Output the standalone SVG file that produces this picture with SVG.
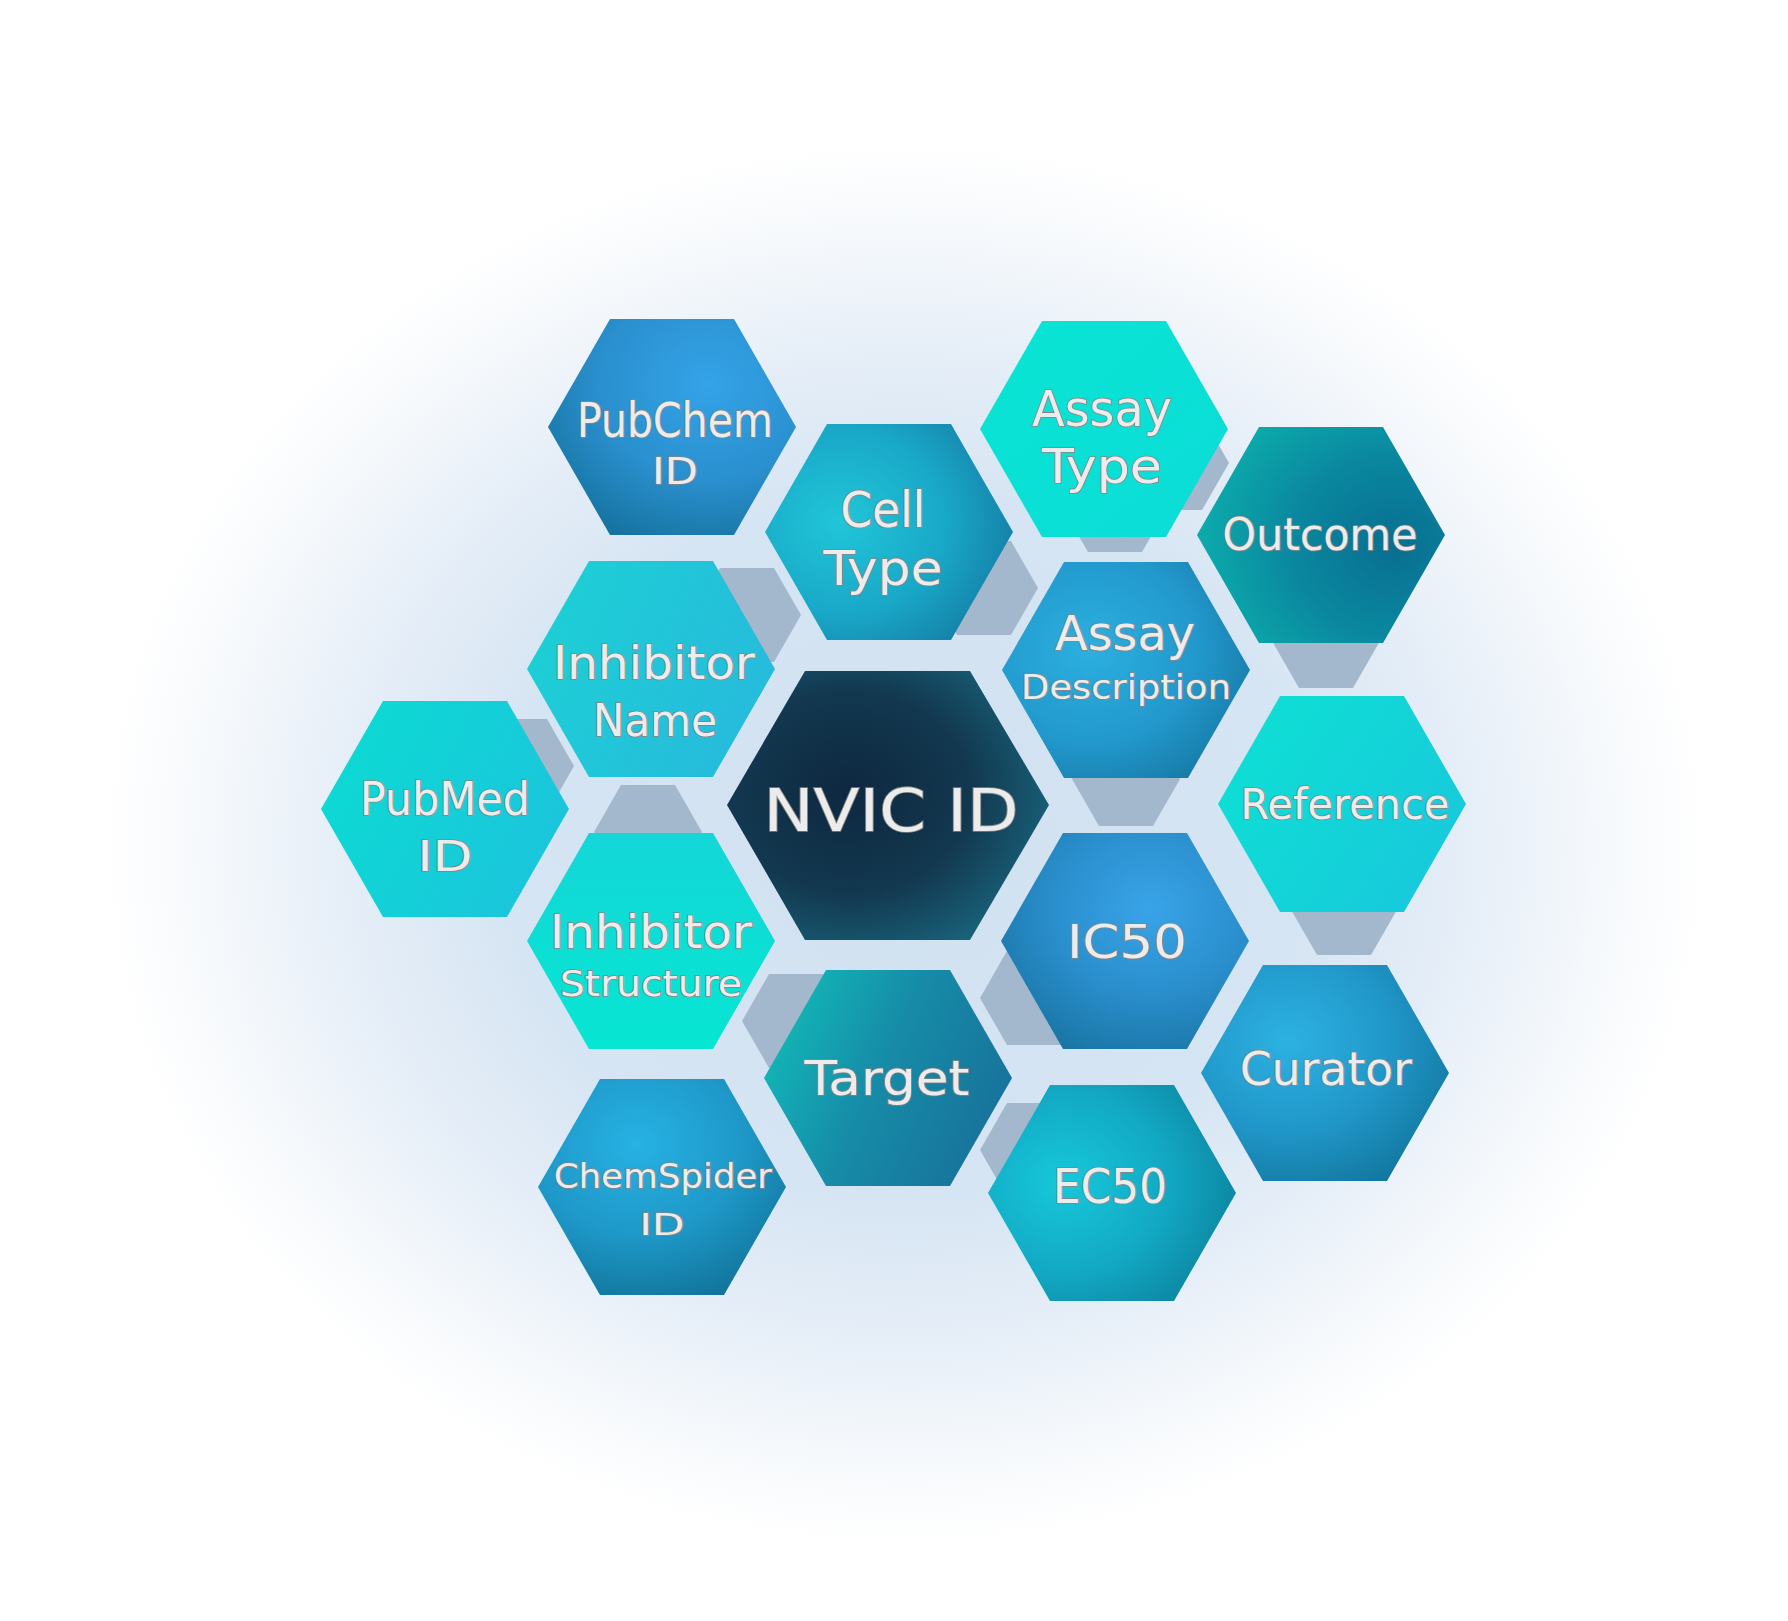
<svg xmlns="http://www.w3.org/2000/svg" width="1788" height="1621" viewBox="0 0 1788 1621">
<defs>
<radialGradient id="bg" cx="0.5" cy="0.5" r="0.5">
<stop offset="0" stop-color="#d0e1f1"/>
<stop offset="0.5" stop-color="#d6e5f3"/>
<stop offset="0.72" stop-color="#e7eff8"/>
<stop offset="0.88" stop-color="#f6f9fc"/>
<stop offset="1" stop-color="#ffffff"/>
</radialGradient>
<radialGradient id="gPubChem" cx="0.65" cy="0.3" r="0.8"><stop offset="0" stop-color="#34a3e8"/><stop offset="0.55" stop-color="#2a90cf"/><stop offset="1" stop-color="#15729e"/></radialGradient>
<radialGradient id="gCell" cx="0.3" cy="0.45" r="0.85"><stop offset="0" stop-color="#20c6d8"/><stop offset="0.5" stop-color="#19a8c8"/><stop offset="1" stop-color="#13709a"/></radialGradient>
<linearGradient id="gAssayType" x1="0" y1="0" x2="1" y2="1"><stop offset="0" stop-color="#08e5d3"/><stop offset="1" stop-color="#0cdcd8"/></linearGradient>
<radialGradient id="gOutcome" cx="0.8" cy="0.55" r="0.85"><stop offset="0" stop-color="#086e90"/><stop offset="0.5" stop-color="#0a88a0"/><stop offset="1" stop-color="#0cb0ac"/></radialGradient>
<linearGradient id="gInhName" x1="0" y1="0" x2="1" y2="0.4"><stop offset="0" stop-color="#1bd2d4"/><stop offset="1" stop-color="#26bcdc"/></linearGradient>
<radialGradient id="gAssayDesc" cx="0.35" cy="0.4" r="0.8"><stop offset="0" stop-color="#2bb0e0"/><stop offset="0.55" stop-color="#2298cc"/><stop offset="1" stop-color="#14739e"/></radialGradient>
<linearGradient id="gPubMed" x1="0" y1="0.3" x2="1" y2="0.7"><stop offset="0" stop-color="#0cdad4"/><stop offset="1" stop-color="#1cc4dc"/></linearGradient>
<radialGradient id="gNvic" cx="0.38" cy="0.45" r="0.75"><stop offset="0" stop-color="#0e2840"/><stop offset="0.5" stop-color="#12384f"/><stop offset="1" stop-color="#1a7088"/></radialGradient>
<linearGradient id="gRef" x1="0" y1="0.2" x2="1" y2="0.8"><stop offset="0" stop-color="#0ee0d4"/><stop offset="1" stop-color="#18c8dc"/></linearGradient>
<linearGradient id="gInhStruct" x1="0" y1="0" x2="0" y2="1"><stop offset="0" stop-color="#14d6d8"/><stop offset="1" stop-color="#06e6d2"/></linearGradient>
<radialGradient id="gIC50" cx="0.6" cy="0.35" r="0.8"><stop offset="0" stop-color="#38a4e8"/><stop offset="0.5" stop-color="#2a8ecc"/><stop offset="1" stop-color="#15709c"/></radialGradient>
<linearGradient id="gTarget" x1="0" y1="0.3" x2="1" y2="0.7"><stop offset="0" stop-color="#12b8b8"/><stop offset="0.45" stop-color="#168ca8"/><stop offset="1" stop-color="#18709a"/></linearGradient>
<radialGradient id="gCurator" cx="0.35" cy="0.35" r="0.85"><stop offset="0" stop-color="#2cb2e2"/><stop offset="0.5" stop-color="#2096c8"/><stop offset="1" stop-color="#0e6e92"/></radialGradient>
<radialGradient id="gChem" cx="0.4" cy="0.3" r="0.85"><stop offset="0" stop-color="#26b2e4"/><stop offset="0.5" stop-color="#1e98c8"/><stop offset="1" stop-color="#0e6c90"/></radialGradient>
<radialGradient id="gEC50" cx="0.3" cy="0.45" r="0.85"><stop offset="0" stop-color="#16c8da"/><stop offset="0.5" stop-color="#12a8c4"/><stop offset="1" stop-color="#0a7892"/></radialGradient>
<polygon id="hex" points="-124,0 -62,-108 62,-108 124,0 62,108 -62,108"/>
<polygon id="acc" points="-54,0 -27,-47 27,-47 54,0 27,47 -27,47"/>
</defs>
<style>
.t{font-family:"DejaVu Sans","Liberation Sans",sans-serif;fill:#ececec;stroke:#858585;stroke-width:1.7;paint-order:stroke;text-anchor:middle;}
.a{fill:#a3b7cd;}
</style>
<rect width="1788" height="1621" fill="#ffffff"/>
<ellipse cx="905" cy="845" rx="800" ry="700" fill="url(#bg)"/>

<g id="accents">
<use href="#acc" class="a" x="747" y="615"/>
<use href="#acc" class="a" x="984" y="588"/>
<use href="#acc" class="a" x="1175" y="463"/>
<use href="#acc" class="a" x="1115" y="505"/>
<use href="#acc" class="a" x="1326" y="641"/>
<use href="#acc" class="a" x="1126" y="779"/>
<use href="#acc" class="a" x="1344" y="908"/>
<use href="#acc" class="a" x="520" y="766"/>
<use href="#acc" class="a" x="648" y="832"/>
<use href="#acc" class="a" x="1034" y="998"/>
<use href="#acc" class="a" x="796" y="1021"/>
<use href="#acc" class="a" x="1034" y="1150"/>
</g>

<g id="connectors"></g>

<g id="node-pubchem"><use href="#hex" x="672" y="427" fill="url(#gPubChem)"/>
<text class="t" x="675" y="437" font-size="48" textLength="196" lengthAdjust="spacingAndGlyphs">PubChem</text>
<text class="t" x="675" y="484" font-size="37" textLength="46" lengthAdjust="spacingAndGlyphs">ID</text></g>

<g id="node-celltype"><use href="#hex" x="889" y="532" fill="url(#gCell)"/>
<text class="t" x="883" y="527" font-size="50" textLength="85" lengthAdjust="spacingAndGlyphs">Cell</text>
<text class="t" x="883" y="585" font-size="48" textLength="119" lengthAdjust="spacingAndGlyphs">Type</text></g>

<g id="node-assaytype"><use href="#hex" x="1104" y="429" fill="url(#gAssayType)"/>
<text class="t" x="1102" y="426" font-size="49" textLength="140" lengthAdjust="spacingAndGlyphs">Assay</text>
<text class="t" x="1102" y="483" font-size="48" textLength="120" lengthAdjust="spacingAndGlyphs">Type</text></g>

<g id="node-outcome"><use href="#hex" x="1321" y="535" fill="url(#gOutcome)"/>
<text class="t" x="1320" y="550" font-size="45" textLength="195" lengthAdjust="spacingAndGlyphs">Outcome</text></g>

<g id="node-inhibitorname"><use href="#hex" x="651" y="669" fill="url(#gInhName)"/>
<text class="t" x="654" y="679" font-size="47" textLength="202" lengthAdjust="spacingAndGlyphs">Inhibitor</text>
<text class="t" x="655" y="736" font-size="45" textLength="124" lengthAdjust="spacingAndGlyphs">Name</text></g>

<g id="node-assaydescription"><use href="#hex" x="1126" y="670" fill="url(#gAssayDesc)"/>
<text class="t" x="1125" y="650" font-size="48" textLength="140" lengthAdjust="spacingAndGlyphs">Assay</text>
<text class="t" x="1126" y="699" font-size="34" textLength="210" lengthAdjust="spacingAndGlyphs">Description</text></g>

<g id="node-pubmed"><use href="#hex" x="445" y="809" fill="url(#gPubMed)"/>
<text class="t" x="445" y="815" font-size="47" textLength="170" lengthAdjust="spacingAndGlyphs">PubMed</text>
<text class="t" x="445" y="871" font-size="42" textLength="55" lengthAdjust="spacingAndGlyphs">ID</text></g>

<g id="node-nvic"><polygon points="727,805 805,671 970,671 1049,805 970,940 805,940" fill="url(#gNvic)"/>
<text class="t" x="891" y="831" font-size="59" textLength="255" lengthAdjust="spacingAndGlyphs">NVIC ID</text></g>

<g id="node-reference"><use href="#hex" x="1342" y="804" fill="url(#gRef)"/>
<text class="t" x="1345" y="819" font-size="42" textLength="209" lengthAdjust="spacingAndGlyphs">Reference</text></g>

<g id="node-inhibitorstructure"><use href="#hex" x="651" y="941" fill="url(#gInhStruct)"/>
<text class="t" x="651" y="948" font-size="47" textLength="202" lengthAdjust="spacingAndGlyphs">Inhibitor</text>
<text class="t" x="651" y="996" font-size="36" textLength="182" lengthAdjust="spacingAndGlyphs">Structure</text></g>

<g id="node-ic50"><use href="#hex" x="1125" y="941" fill="url(#gIC50)"/>
<text class="t" x="1127" y="958" font-size="46" textLength="120" lengthAdjust="spacingAndGlyphs">IC50</text></g>

<g id="node-target"><use href="#hex" x="888" y="1078" fill="url(#gTarget)"/>
<text class="t" x="887" y="1095" font-size="48" textLength="165" lengthAdjust="spacingAndGlyphs">Target</text></g>

<g id="node-curator"><use href="#hex" x="1325" y="1073" fill="url(#gCurator)"/>
<text class="t" x="1326" y="1085" font-size="46" textLength="172" lengthAdjust="spacingAndGlyphs">Curator</text></g>

<g id="node-chemspider"><use href="#hex" x="662" y="1187" fill="url(#gChem)"/>
<text class="t" x="663" y="1188" font-size="34" textLength="218" lengthAdjust="spacingAndGlyphs">ChemSpider</text>
<text class="t" x="662" y="1235" font-size="31" textLength="45" lengthAdjust="spacingAndGlyphs">ID</text></g>

<g id="node-ec50"><use href="#hex" x="1112" y="1193" fill="url(#gEC50)"/>
<text class="t" x="1110" y="1203" font-size="48" textLength="114" lengthAdjust="spacingAndGlyphs">EC50</text></g>
</svg>
